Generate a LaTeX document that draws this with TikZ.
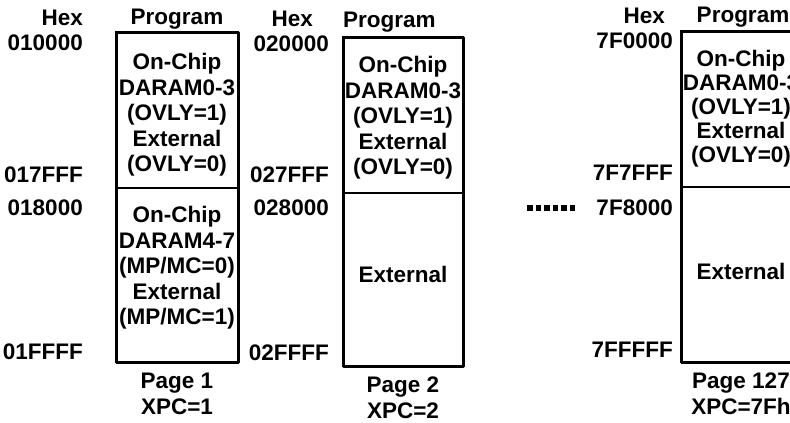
\documentclass[tikz,border=0pt]{standalone}
\usepackage{fontspec}
\setmainfont{Liberation Sans}
\usetikzlibrary{positioning}

\begin{document}
\begin{tikzpicture}[x=1pt, y=-1pt, font=\fontsize{22.5}{25.5}\selectfont\bfseries,
addr/.style={inner sep=0pt, anchor=east},
txt/.style={inner sep=0pt, align=center},
sect/.style={draw, line width=1.2pt, minimum width=120pt, inner sep=0pt, outer sep=0pt, anchor=north west},
outline/.style={line width=3pt, line join=round}]

\clip (0,0) rectangle (790,423);

% Page 1
\node[sect, minimum width=122pt, minimum height=156pt] (p1a) at (116,32) {};
\node[sect, minimum width=122pt, minimum height=174pt] (p1b) at (p1a.south west) {};
\draw[outline] (p1a.north west) rectangle (p1b.south east);
\node[txt] (prog1) at (177,19) {Program};
\node[txt] (p1at) at (177,115) {On-Chip\\DARAM0-3\\(OVLY=1)\\External\\(OVLY=0)};
\node[txt] (p1bt) at (177,268) {On-Chip\\DARAM4-7\\(MP/MC=0)\\External\\(MP/MC=1)};
\node[txt, below=11pt of p1b] (pg1) {Page 1\\XPC=1};
\node[addr] (hex1) at (83,18) {Hex};
\node[addr] at (83,43) {010000};
\node[addr] at (83,175) {017FFF};
\node[addr] at (83,208) {018000};
\node[addr] at (83,352) {01FFFF};

% Page 2
\node[sect, minimum height=156pt] (p2a) at (343,37) {};
\node[sect, minimum height=173pt] (p2b) at (p2a.south west) {};
\draw[outline] (p2a.north west) rectangle (p2b.south east);
\node[txt, anchor=west] (prog2) at (343,22) {Program};
\node[txt] (p2at) at (403,118) {On-Chip\\DARAM0-3\\(OVLY=1)\\External\\(OVLY=0)};
\node[txt] (p2bt) at (403,274) {External};
\node[txt, below=11pt of p2b] (pg2) {Page 2\\XPC=2};
\node[addr] (hex2) at (313,19) {Hex};
\node[addr] at (329,44) {020000};
\node[addr] at (329,175) {027FFF};
\node[addr] at (329,208) {028000};
\node[addr] at (329,353) {02FFFF};

% dots between pages
\foreach \i in {0,...,5}
  \fill (527+\i*8.5,205) rectangle ++(5.5,5.5);

% Page 127
\node[sect, minimum height=156pt] (p3a) at (681,31) {};
\node[sect, minimum height=175pt] (p3b) at (p3a.south west) {};
\draw[outline] (p3a.north west) rectangle (p3b.south east);
\node[txt] (prog3) at (743,17) {Program};
\node[txt, font=\fontsize{22.5}{24}\selectfont\bfseries] (p3at) at (741,109) {On-Chip\\DARAM0-3\\(OVLY=1)\\External\\(OVLY=0)};
\node[txt] (p3bt) at (741,271) {External};
\node[txt, below=11pt of p3b] (pg3) {Page 127\\XPC=7Fh};
\node[addr] (hex3) at (665,16) {Hex};
\node[addr] at (673,41) {7F0000};
\node[addr] at (673,173) {7F7FFF};
\node[addr] at (673,208) {7F8000};
\node[addr] at (673,350) {7FFFFF};
%
\end{tikzpicture}
\end{document}
